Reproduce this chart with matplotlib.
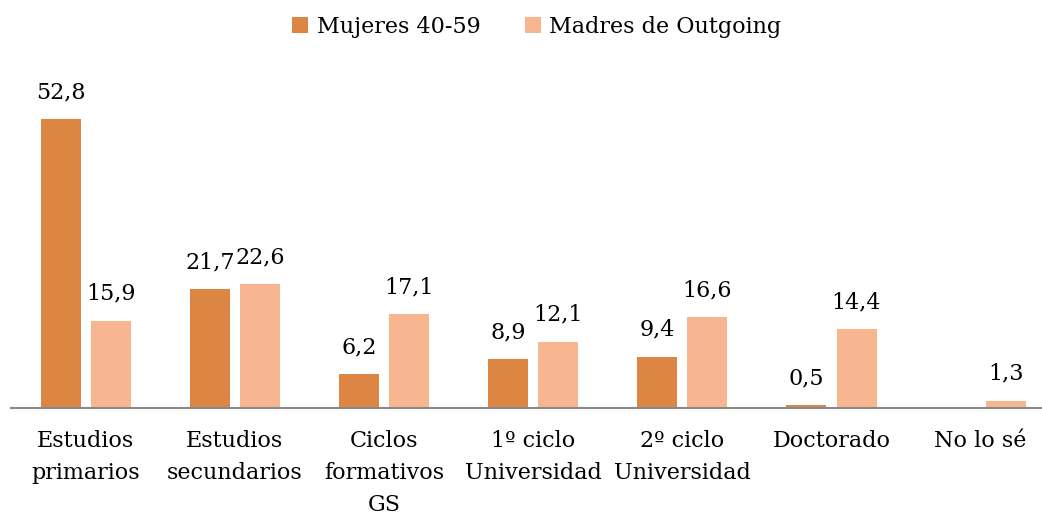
import numpy as np
import matplotlib.pyplot as plt

# Datos
categorias = ["Estudios\nprimarios", "Estudios\nsecundarios", "Ciclos\nformativos\nGS",
              "1º ciclo\nUniversidad", "2º ciclo\nUniversidad", "Doctorado", "No lo sé"]
mujeres = [52.8, 21.7, 6.2, 8.9, 9.4, 0.5, None]
madres = [15.9, 22.6, 17.1, 12.1, 16.6, 14.4, 1.3]

col_mujeres = "#DD8542"
col_madres = "#F8B690"

plt.rcParams['font.family'] = ['DejaVu Serif']

fig = plt.figure(figsize=(10.42, 5.14), dpi=100)
# el eje se sale un poco por la derecha, como en el original
ax = fig.add_axes([11.2 / 1042, (514 - 408) / 514, 1044 / 1042, 330 / 514])

x = np.arange(len(categorias))
w = 0.268
off = 0.168

m_vals = [v if v is not None else 0 for v in mujeres]
b1 = ax.bar(x - off, m_vals, w, color=col_mujeres, label="Mujeres 40-59")
b2 = ax.bar(x + off, madres, w, color=col_madres, label="Madres de Outgoing")

for xi, v in zip(x - off, mujeres):
    if v is None:
        continue
    ax.annotate(f"{v:.1f}".replace(".", ","), (xi, v), xytext=(0, 19.5), textcoords="offset points",
                ha="center", va="center", fontsize=16)
for xi, v in zip(x + off, madres):
    ax.annotate(f"{v:.1f}".replace(".", ","), (xi, v), xytext=(0, 19.5), textcoords="offset points",
                ha="center", va="center", fontsize=16)

ax.set_xlim(-0.5, len(categorias) - 0.5)
ax.set_ylim(0, 60.3)
ax.set_yticks([])
ax.set_xticks(x)
ax.set_xticklabels(categorias, fontsize=16, linespacing=1.6)
ax.tick_params(axis="x", length=0, pad=15.5)
for s in ["top", "right", "left"]:
    ax.spines[s].set_visible(False)
ax.spines["bottom"].set_color("#898989")
ax.spines["bottom"].set_linewidth(1.5)

fig.legend(loc="center", bbox_to_anchor=(537 / 1042, 1 - 27 / 514), ncol=2, frameon=False,
           fontsize=16, handlelength=0.7, handleheight=0.7, handletextpad=0.4, columnspacing=2.0)

fig.savefig("out.png", dpi=100)
